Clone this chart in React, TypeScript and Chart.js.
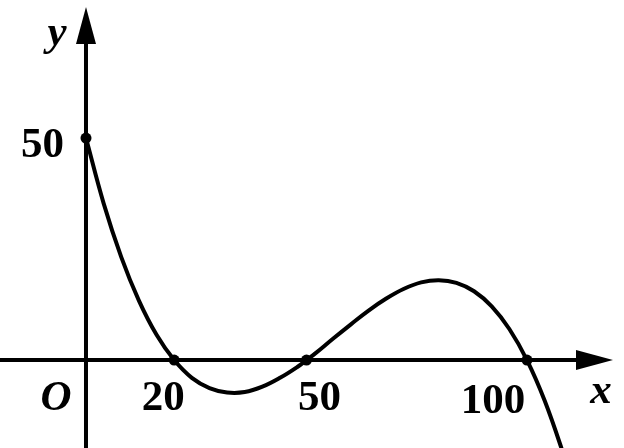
import React, { useEffect, useRef } from "react";
import { Chart, registerables } from "chart.js";

Chart.register(...registerables);

// Curve samples
const curveX = [0, 4, 8, 12, 16, 20, 24, 28, 32, 36, 40, 44, 48, 50, 52, 56, 60, 64, 68, 72, 76, 80, 84, 88, 92, 96, 100, 104, 108, 110];
const curveY = [50, 35.3, 23.2, 13.4, 5.7, 0, -4.0, -6.3, -7.3, -7.2, -6.0, -4.0, -1.5, 0, 1.5, 4.8, 8.0, 11.1, 13.8, 16.0, 17.5, 18.0, 17.4, 15.5, 12.1, 7.0, 0, -9.1, -20.4, -27];

// Marked points
const markX = [0, 20, 50, 100];
const markY = [50, 0, 0, 0];

// Tick labels
const xTickValues = [20, 50, 100];
const xTickLabels = ["20", "50", "100"];
const yTickValues = [50];
const yTickLabels = ["50"];

// Axis extents
const xMin = -19.5;
const xMax = 122.0;
const yMin = -19.8;
const yMax = 81.1;
const xArrowTip = 119.5;
const yArrowTip = 79.5;

const FONT = "'Liberation Serif', 'DejaVu Serif', serif";

const axesPlugin = {
  id: "mathAxes",
  beforeDatasetsDraw(chart: any) {
    const { ctx, scales } = chart;
    const xs = scales.x;
    const ys = scales.y;
    const x0 = xs.getPixelForValue(0);
    const y0 = ys.getPixelForValue(0);
    const xt = xs.getPixelForValue(xArrowTip);
    const yt = ys.getPixelForValue(yArrowTip);
    ctx.save();
    ctx.strokeStyle = "#000";
    ctx.fillStyle = "#000";
    ctx.lineWidth = 4;
    // x axis
    ctx.beginPath();
    ctx.moveTo(xs.getPixelForValue(xMin), y0);
    ctx.lineTo(xt - 20, y0);
    ctx.stroke();
    ctx.beginPath();
    ctx.moveTo(xt, y0);
    ctx.lineTo(xt - 37, y0 - 10);
    ctx.lineTo(xt - 37, y0 + 10);
    ctx.closePath();
    ctx.fill();
    // y axis
    ctx.beginPath();
    ctx.moveTo(x0, ys.getPixelForValue(yMin));
    ctx.lineTo(x0, yt + 20);
    ctx.stroke();
    ctx.beginPath();
    ctx.moveTo(x0, yt);
    ctx.lineTo(x0 - 10, yt + 37);
    ctx.lineTo(x0 + 10, yt + 37);
    ctx.closePath();
    ctx.fill();
    ctx.restore();
  },
  afterDraw(chart: any) {
    const { ctx, scales } = chart;
    const xs = scales.x;
    const ys = scales.y;
    const x0 = xs.getPixelForValue(0);
    const y0 = ys.getPixelForValue(0);
    const xt = xs.getPixelForValue(xArrowTip);
    ctx.save();
    ctx.fillStyle = "#000";
    ctx.textBaseline = "alphabetic";
    ctx.font = `bold 43px ${FONT}`;
    // x tick labels
    const xOffsets = [-11, 13, -34];
    const yBase = [50, 50, 53];
    xTickValues.forEach((v, i) => {
      ctx.textAlign = "center";
      ctx.fillText(xTickLabels[i], xs.getPixelForValue(v) + xOffsets[i], y0 + yBase[i]);
    });
    // y tick labels
    yTickValues.forEach((v, i) => {
      ctx.textAlign = "right";
      ctx.fillText(yTickLabels[i], x0 - 22, ys.getPixelForValue(v) + 19);
    });
    // italic labels
    ctx.font = `italic bold 43px ${FONT}`;
    ctx.textAlign = "center";
    ctx.fillText("O", x0 - 30, y0 + 50);
    ctx.fillText("x", xt - 12, y0 + 43);
    ctx.fillText("y", x0 - 29, 45);
    ctx.restore();
  },
};

export default function App() {
  const ref = useRef<HTMLCanvasElement>(null);
  useEffect(() => {
    document.body.style.margin = "0";
    const canvas = ref.current!;
    const chart = new Chart(canvas, {
      type: "scatter",
      data: {
        datasets: [
          {
            data: curveX.map((x, i) => ({ x, y: curveY[i] })),
            showLine: true,
            borderColor: "#000",
            borderWidth: 4,
            pointRadius: 0,
            tension: 0.4,
            fill: false,
          },
          {
            data: markX.map((x, i) => ({ x, y: markY[i] })),
            showLine: false,
            pointRadius: 5.5,
            pointBackgroundColor: "#000",
            pointBorderColor: "#000",
            pointBorderWidth: 0,
          },
        ],
      },
      options: {
        animation: false,
        responsive: false,
        maintainAspectRatio: false,
        layout: { padding: 0, autoPadding: false },
        plugins: { legend: { display: false }, tooltip: { enabled: false } },
        scales: {
          x: { type: "linear", min: xMin, max: xMax, display: false },
          y: { type: "linear", min: yMin, max: yMax, display: false },
        },
      },
      plugins: [axesPlugin],
    });
    return () => chart.destroy();
  }, []);
  return (
    <div style={{ position: "fixed", left: 0, top: 0, width: 624, height: 448, background: "#fff" }}>
      <canvas ref={ref} width={624} height={448} />
    </div>
  );
}
